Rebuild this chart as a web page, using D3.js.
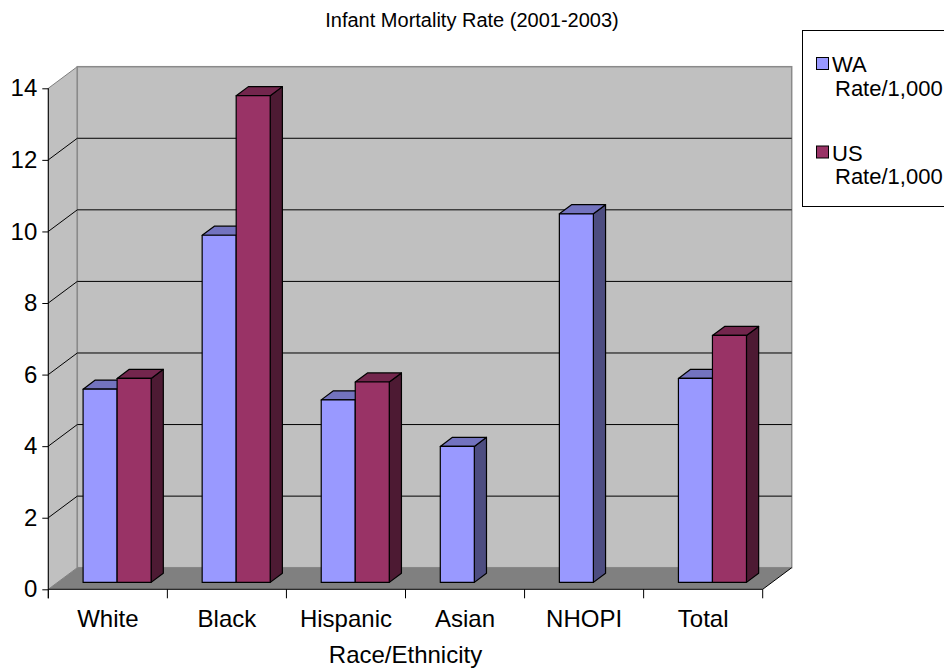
<!DOCTYPE html>
<html>
<head>
<meta charset="utf-8">
<script src="https://cdn.jsdelivr.net/npm/d3@7"></script>
<style>
  html, body { margin: 0; padding: 0; background: #fff; }
  svg { display: block; font-family: "Liberation Sans", Arial, sans-serif; }
</style>
</head>
<body>
<svg id="chart" width="944" height="671"></svg>
<script>
// Infant mortality rates per 1,000 live births, 2001-2003
const categories = ["White", "Black", "Hispanic", "Asian", "NHOPI", "Total"];
const seriesNames = ["WA Rate/1,000", "US Rate/1,000"];
const waRates = [5.4, 9.7, 5.1, 3.8, 10.3, 5.7];
const usRates = [5.7, 13.6, 5.6, null, null, 6.9];
const yTicks = [0, 2, 4, 6, 8, 10, 12, 14];

const svg = d3.select("#chart");

// Front plane of the 3-D box and the depth vector to the back wall
const plotLeft = 48.3, plotRight = 762.7, plotBase = 589.3, plotTop = 88.3;
const depth = { x: 29, y: -21.6 };
const off = d => ({ x: depth.x * d, y: depth.y * d });
const barFront = 0.32, barBack = 0.74;

const x = d3.scaleBand().domain(categories).range([plotLeft, plotRight]).padding(0);
const xs = d3.scaleBand().domain(seriesNames).range([0, x.bandwidth()])
  .paddingInner(0).paddingOuter(0.75);
const y = d3.scaleLinear().domain([0, 14]).range([plotBase, plotTop]);

const faceColors = {
  "WA Rate/1,000": { front: "#9999FF", top: "#7373BF", side: "#4D4D80" },
  "US Rate/1,000": { front: "#993366", top: "#73264D", side: "#4D1A33" }
};

const pt = (px, py, d) => [px + off(d).x, py + off(d).y];
const poly = pts => "M" + pts.map(p => p.join(",")).join("L") + "Z";

// Walls and floor
const g = svg.append("g");
const b = off(1);
g.append("path")
  .attr("d", poly([[plotLeft, plotTop], [plotLeft + b.x, plotTop + b.y],
                   [plotLeft + b.x, plotBase + b.y], [plotLeft, plotBase]]))
  .attr("fill", "#C0C0C0").attr("stroke", "#808080").attr("stroke-width", 1);
g.append("rect")
  .attr("x", plotLeft + b.x).attr("y", plotTop + b.y)
  .attr("width", plotRight - plotLeft).attr("height", plotBase - plotTop)
  .attr("fill", "#C0C0C0").attr("stroke", "#8a8a8a").attr("stroke-width", 1.5);
g.append("path")
  .attr("d", poly([[plotLeft, plotBase], [plotRight, plotBase],
                   [plotRight + b.x, plotBase + b.y], [plotLeft + b.x, plotBase + b.y]]))
  .attr("fill", "#808080");
g.append("line")
  .attr("x1", plotRight).attr("y1", plotBase)
  .attr("x2", plotRight + b.x).attr("y2", plotBase + b.y)
  .attr("stroke", "#000").attr("stroke-width", 1);

// Gridlines on the back wall and the side wall
const inner = yTicks.filter(t => t > 0 && t < 14);
g.selectAll(".grid-back").data(inner).join("line")
  .attr("x1", plotLeft + b.x).attr("x2", plotRight + b.x)
  .attr("y1", t => y(t) + b.y).attr("y2", t => y(t) + b.y)
  .attr("stroke", "#000").attr("stroke-width", 1);
g.selectAll(".grid-side").data(inner).join("line")
  .attr("x1", plotLeft).attr("y1", t => y(t))
  .attr("x2", plotLeft + b.x).attr("y2", t => y(t) + b.y)
  .attr("stroke", "#000").attr("stroke-width", 1);

// Bars, drawn left to right so each one covers its neighbour's side face
const bars = [];
categories.forEach((c, i) => {
  [[seriesNames[0], waRates[i]], [seriesNames[1], usRates[i]]].forEach(([s, v]) => {
    if (v == null) return;
    bars.push({ c, s, v });
  });
});
const barG = svg.append("g").attr("stroke", "#000").attr("stroke-width", 1.2)
  .attr("stroke-linejoin", "round");
bars.forEach(d => {
  const x0 = x(d.c) + xs(d.s), x1 = x0 + xs.bandwidth();
  const y0 = y(0), y1 = y(d.v);
  const col = faceColors[d.s];
  const f = barFront, k = barBack;
  barG.append("path").attr("fill", col.side)
    .attr("d", poly([pt(x1, y1, f), pt(x1, y1, k), pt(x1, y0, k), pt(x1, y0, f)]));
  barG.append("path").attr("fill", col.top)
    .attr("d", poly([pt(x0, y1, f), pt(x0, y1, k), pt(x1, y1, k), pt(x1, y1, f)]));
  barG.append("path").attr("fill", col.front)
    .attr("d", poly([pt(x0, y1, f), pt(x1, y1, f), pt(x1, y0, f), pt(x0, y0, f)]));
});

// Value axis
const yAxis = svg.append("g").attr("transform", `translate(${plotLeft},0)`)
  .call(d3.axisLeft(y).tickValues(yTicks).tickSize(6).tickSizeOuter(0).tickPadding(5));
yAxis.select(".domain").remove();
yAxis.append("line").attr("x1", 0).attr("x2", 0).attr("y1", plotTop).attr("y2", plotBase + 9)
  .attr("stroke", "#000");
yAxis.selectAll("text").attr("font-size", 24).attr("fill", "#000")
  .attr("font-family", "Liberation Sans, Arial, sans-serif");

// Category axis
const xAxis = svg.append("g").attr("transform", `translate(0,${plotBase})`)
  .call(d3.axisBottom(x).tickSize(0).tickPadding(21));
xAxis.select(".domain").remove();
xAxis.append("line").attr("x1", plotLeft).attr("x2", plotRight).attr("stroke", "#000");
xAxis.selectAll(".bound").data(d3.range(categories.length + 1)).join("line")
  .attr("x1", i => plotLeft + i * x.step()).attr("x2", i => plotLeft + i * x.step())
  .attr("y1", 0).attr("y2", 9).attr("stroke", "#000");
xAxis.selectAll("text").attr("font-size", 24).attr("fill", "#000")
  .attr("font-family", "Liberation Sans, Arial, sans-serif");

// Titles
svg.append("text").attr("x", 472).attr("y", 27).attr("text-anchor", "middle")
  .attr("font-size", 20).text("Infant Mortality Rate (2001-2003)");
svg.append("text").attr("x", (plotLeft + plotRight) / 2).attr("y", 663)
  .attr("text-anchor", "middle").attr("font-size", 24).text("Race/Ethnicity");

// Legend
const leg = svg.append("g");
leg.append("rect").attr("x", 802.5).attr("y", 30.5).attr("width", 160).attr("height", 176)
  .attr("fill", "#fff").attr("stroke", "#000").attr("stroke-width", 1);
seriesNames.forEach((s, i) => {
  const yy = 57.5 + i * 88.5;
  leg.append("rect").attr("x", 816.5).attr("y", yy).attr("width", 12).attr("height", 12)
    .attr("fill", faceColors[s].front).attr("stroke", "#000").attr("stroke-width", 1);
  const parts = s.split(" ");
  const t = leg.append("text").attr("font-size", 22);
  t.append("tspan").attr("x", 832).attr("y", yy + 14.5).text(parts[0]);
  t.append("tspan").attr("x", 835).attr("y", yy + 38).text(parts[1]);
});
</script>
</body>
</html>
